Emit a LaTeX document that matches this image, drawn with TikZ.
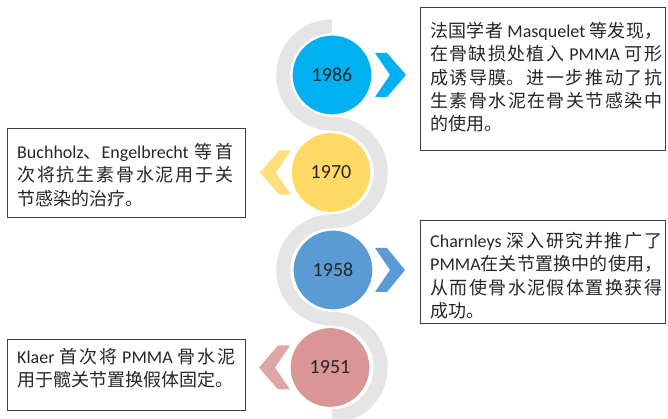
\documentclass[tikz,border=0pt]{standalone}
\usepackage{fontspec}
\setmainfont{Carlito}
\newfontfamily\cjk{Noto Sans CJK SC}
\XeTeXlinebreaklocale "zh"
\XeTeXlinebreakskip=0pt plus 3pt
\definecolor{cA}{HTML}{00B0F0}
\definecolor{cB}{HTML}{FFD966}
\definecolor{cC}{HTML}{5B9BD5}
\definecolor{cD}{HTML}{DA9694}
\definecolor{bandgray}{HTML}{E5E5E5}
\definecolor{boxline}{HTML}{404040}
\definecolor{yeartext}{HTML}{262626}
\tikzset{
  band/.style={draw=bandgray,line width=14pt,line cap=butt},
  yearc/.style={circle,minimum size=80pt,inner sep=0pt,draw=white,line width=1.2pt,
    font=\fontsize{20}{24}\selectfont,text=yeartext},
  tbox/.style={draw=boxline,line width=1.3pt,anchor=north west,inner sep=0pt},
  txt/.style={anchor=north west,inner sep=0pt,align=justify,text=black!85,
    font=\fontsize{18}{23.3}\selectfont}
}
\begin{document}
\begin{tikzpicture}[x=1pt,y=1pt]
\useasboundingbox (0,0) rectangle (668,419);
\clip (0,0) rectangle (668,419);
% S-shaped track
\draw[band] (332,392.75) arc[start angle=90,end angle=270,radius=48.75]
  arc[start angle=90,end angle=-90,radius=48.75]
  arc[start angle=90,end angle=270,radius=48.75]
  arc[start angle=90,end angle=-90,radius=48.75];
% circles
\node[yearc,fill=cA] (yA) at (332,344) {1986};
\node[yearc,fill=cB] (yB) at (331,246.5) {1970};
\node[yearc,fill=cC] (yC) at (333,149) {1958};
\node[yearc,fill=cD] (yD) at (330,51.5) {1951};
% chevrons
\fill[cA,shift={(yA.center)}] (43,22) -- (55,22) -- (74,0) -- (55,-22) -- (43,-22) -- (58,0) -- cycle;
\fill[cB!85!white,shift={(yB.center)}] (-40,22) -- (-52,22) -- (-71,0) -- (-52,-22) -- (-40,-22) -- (-55,0) -- cycle;
\fill[cC,shift={(yC.center)}] (42,22) -- (54,22) -- (72,0) -- (54,-22) -- (42,-22) -- (57,0) -- cycle;
\fill[cD!85!white,shift={(yD.center)}] (-40,22) -- (-52,22) -- (-71,0) -- (-52,-22) -- (-40,-22) -- (-55,0) -- cycle;
% boxes
\node[tbox,minimum width=245pt,minimum height=143pt] (bA) at (420,412) {};
\node[tbox,minimum width=238pt,minimum height=89pt] (bB) at (7,291) {};
\node[tbox,minimum width=245pt,minimum height=103pt] (bC) at (420,199) {};
\node[tbox,minimum width=238pt,minimum height=71pt] (bD) at (7,80) {};
% texts
\node[txt,text width=232pt] (tA) at (430,397) {{\cjk 法国学者} Masquelet {\cjk 等发现，}\linebreak
{\cjk 在骨缺损处植入} PMMA {\cjk 可形}\linebreak
{\cjk 成诱导膜。进一步推动了抗}\linebreak
{\cjk 生素骨水泥在骨关节感染中}\linebreak
{\cjk 的使用。}};
\node[txt,text width=216pt] (tB) at (17,276) {Buchholz{\cjk 、}Engelbrecht {\cjk 等首}\linebreak
{\cjk 次将抗生素骨水泥用于关}\linebreak
{\cjk 节感染的治疗。}};
\node[txt,text width=232pt] (tC) at (430,187) {Charnleys {\cjk 深入研究并推广了}\linebreak
PMMA{\cjk 在关节置换中的使用，}\linebreak
{\cjk 从而使骨水泥假体置换获得}\linebreak
{\cjk 成功。}};
\node[txt,text width=218pt] (tD) at (17,71) {Klaer {\cjk 首次将} PMMA {\cjk 骨水泥}\linebreak
{\cjk 用于髋关节置换假体固定。}};
\end{tikzpicture}
\end{document}
